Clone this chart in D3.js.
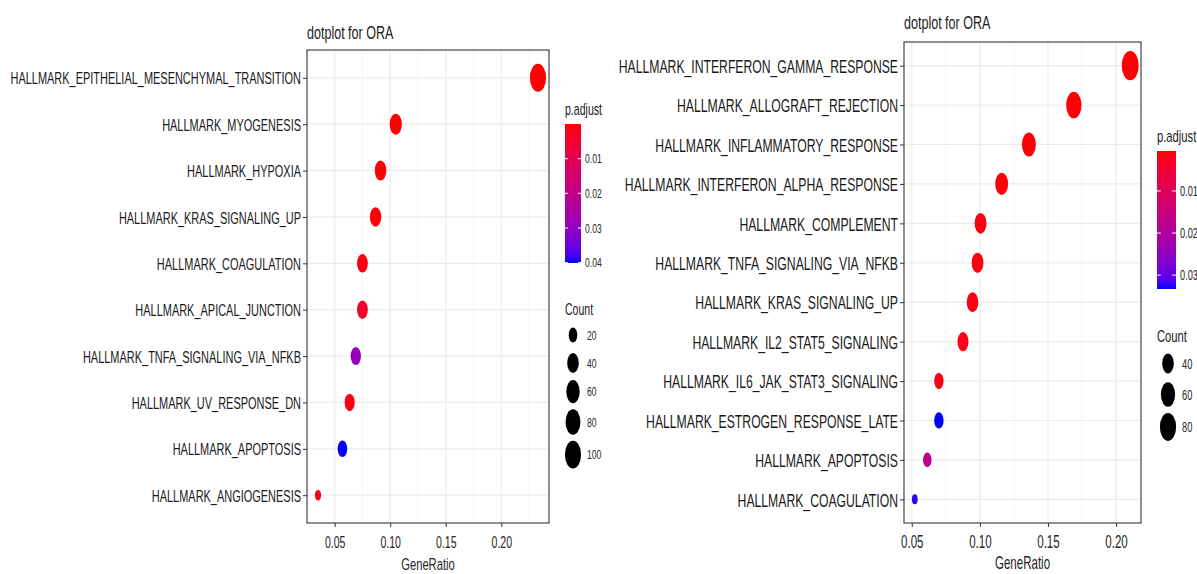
<!DOCTYPE html>
<html>
<head>
<meta charset="utf-8">
<script src="https://cdn.jsdelivr.net/npm/d3@7"></script>
<style>
  body { margin: 0; background: #fff; }
  text { font-family: "Liberation Sans", Arial, sans-serif; }
</style>
</head>
<body>
<svg id="chart" width="1197" height="574"></svg>
<script>
// left plot
const leftTerms = ["HALLMARK_EPITHELIAL_MESENCHYMAL_TRANSITION", "HALLMARK_MYOGENESIS", "HALLMARK_HYPOXIA",
  "HALLMARK_KRAS_SIGNALING_UP", "HALLMARK_COAGULATION", "HALLMARK_APICAL_JUNCTION",
  "HALLMARK_TNFA_SIGNALING_VIA_NFKB", "HALLMARK_UV_RESPONSE_DN", "HALLMARK_APOPTOSIS", "HALLMARK_ANGIOGENESIS"];
const leftRatio = [0.233, 0.105, 0.0913, 0.0868, 0.075, 0.075, 0.069, 0.0635, 0.057, 0.035];
const leftCount = [102, 46, 40, 38, 33, 33, 30, 28, 25, 15];
const leftPadj = [1e-20, 5e-5, 3e-4, 4e-4, 1.2e-3, 4.5e-3, 0.029, 1.5e-3, 0.0401, 1.8e-3];
const leftPadjTicks = [0.01, 0.02, 0.03, 0.04];
const leftCountBreaks = [20, 40, 60, 80, 100];

// right plot
const rightTerms = ["HALLMARK_INTERFERON_GAMMA_RESPONSE", "HALLMARK_ALLOGRAFT_REJECTION", "HALLMARK_INFLAMMATORY_RESPONSE",
  "HALLMARK_INTERFERON_ALPHA_RESPONSE", "HALLMARK_COMPLEMENT", "HALLMARK_TNFA_SIGNALING_VIA_NFKB",
  "HALLMARK_KRAS_SIGNALING_UP", "HALLMARK_IL2_STAT5_SIGNALING", "HALLMARK_IL6_JAK_STAT3_SIGNALING",
  "HALLMARK_ESTROGEN_RESPONSE_LATE", "HALLMARK_APOPTOSIS", "HALLMARK_COAGULATION"];
const rightRatio = [0.2104, 0.169, 0.136, 0.116, 0.1005, 0.0983, 0.0946, 0.0876, 0.0699, 0.0699, 0.0614, 0.0522];
const rightCount = [89, 71, 57, 49, 42, 41, 40, 37, 29, 29, 26, 22];
const rightPadj = [5e-4, 6e-4, 7e-4, 8e-4, 1.2e-3, 1.2e-3, 1.5e-3, 1.8e-3, 2.5e-3, 0.0333, 0.0175, 0.0325];
const rightPadjTicks = [0.01, 0.02, 0.03];
const rightCountBreaks = [40, 60, 80];

const xTicks = [0.05, 0.10, 0.15, 0.20];

const svg = d3.select("#chart");
const SX = 0.66;      // the source picture is squeezed sideways
const DOT_SX = 0.58;

function label(g, x, y, str, size, anchor, fill) {
  return g.append("text")
    .attr("transform", `translate(${x},${y}) scale(${SX},1)`)
    .attr("text-anchor", anchor || "start")
    .style("font-size", size + "px")
    .attr("fill", fill || "#1a1a1a")
    .text(str);
}

function dotplot(p) {
  const g = svg.append("g");

  const [r0, r1] = d3.extent(p.ratio);
  const x = d3.scaleLinear()
    .domain([r0 - (r1 - r0) * 0.05, r1 + (r1 - r0) * 0.05])
    .range([p.left, p.right]);
  const y = d3.scalePoint().domain(p.terms).range([p.top, p.bottom]).padding(0.6);

  // size like ggplot's area palette
  const norm = d3.scaleLinear().domain(d3.extent(p.count)).range([0, 1]);
  const diam = d3.scaleLinear().domain([0, 1]).range(p.dotRange);
  const size = c => diam(Math.sqrt(Math.max(0, norm(c))));

  const pExt = d3.extent(p.padj);
  const color = d3.scaleLinear().domain(pExt).range(["red", "blue"]).interpolate(d3.interpolateLab);

  // grid
  const step = xTicks[1] - xTicks[0];
  const minor = [xTicks[0] - step / 2].concat(xTicks.map(t => t + step / 2))
    .filter(v => v > x.domain()[0] && v < x.domain()[1]);
  g.selectAll(".minor").data(minor).enter().append("line")
    .attr("x1", d => x(d)).attr("x2", d => x(d))
    .attr("y1", p.top).attr("y2", p.bottom)
    .attr("stroke", "#f2f2f2").attr("stroke-width", 0.7);
  g.selectAll(".major").data(xTicks).enter().append("line")
    .attr("x1", d => x(d)).attr("x2", d => x(d))
    .attr("y1", p.top).attr("y2", p.bottom)
    .attr("stroke", "#ebebeb").attr("stroke-width", 1.2);
  g.selectAll(".hgrid").data(p.terms).enter().append("line")
    .attr("x1", p.left).attr("x2", p.right)
    .attr("y1", d => y(d)).attr("y2", d => y(d))
    .attr("stroke", "#ebebeb").attr("stroke-width", 1.2);

  // dots
  g.selectAll(".dot").data(p.terms).enter().append("ellipse")
    .attr("cx", (d, i) => x(p.ratio[i]))
    .attr("cy", d => y(d))
    .attr("rx", (d, i) => size(p.count[i]) / 2 * DOT_SX)
    .attr("ry", (d, i) => size(p.count[i]) / 2)
    .attr("fill", (d, i) => color(p.padj[i]));

  g.append("rect")
    .attr("x", p.left).attr("y", p.top)
    .attr("width", p.right - p.left).attr("height", p.bottom - p.top)
    .attr("fill", "none").attr("stroke", "#333").attr("stroke-width", 1.1);

  // axes
  const xa = g.append("g").attr("transform", `translate(0,${p.bottom})`)
    .call(d3.axisBottom(x).tickValues(xTicks).tickFormat(d3.format(".2f")).tickSize(4).tickPadding(p.tickPad));
  xa.select(".domain").remove();
  xa.selectAll("line").attr("stroke", "#333");
  xa.selectAll("text")
    .attr("transform", `scale(${SX},1)`)
    .attr("fill", "#262626")
    .style("font-family", "Liberation Sans, Arial, sans-serif")
    .style("font-size", p.tickFont + "px");

  const ya = g.append("g").attr("transform", `translate(${p.left},0)`)
    .call(d3.axisLeft(y).tickSize(4));
  ya.select(".domain").remove();
  ya.selectAll("line").attr("stroke", "#333");
  ya.selectAll("text")
    .attr("x", null).attr("dy", "0.36em")
    .attr("transform", `translate(-6,0) scale(${p.labelSX},1)`)
    .attr("fill", "#1a1a1a")
    .style("font-family", "Liberation Sans, Arial, sans-serif")
    .style("font-size", p.labelFont + "px");

  label(g, p.left, p.titleY, "dotplot for ORA", p.titleFont);
  label(g, (p.left + p.right) / 2, p.xTitleY, "GeneRatio", p.axisTitleFont, "middle", "#262626");

  // colour bar legend
  const lx = p.legendX;
  label(g, lx, p.pTitleY, "p.adjust", p.legendTitleFont);
  const gid = "grad" + p.id;
  const grad = svg.append("defs").append("linearGradient")
    .attr("id", gid).attr("x1", 0).attr("x2", 0).attr("y1", 0).attr("y2", 1);
  d3.range(0, 1.0001, 0.05).forEach(t => {
    grad.append("stop").attr("offset", t).attr("stop-color", color(pExt[0] + t * (pExt[1] - pExt[0])));
  });
  const bar = d3.scaleLinear().domain(pExt).range([p.barTop, p.barBottom]);
  g.append("rect").attr("x", lx).attr("y", p.barTop)
    .attr("width", p.barW).attr("height", p.barBottom - p.barTop)
    .attr("fill", `url(#${gid})`);
  p.padjTicks.forEach(t => {
    const ty = bar(t);
    g.append("line").attr("x1", lx).attr("x2", lx + p.barW * 0.2).attr("y1", ty).attr("y2", ty)
      .attr("stroke", "#fff").attr("stroke-width", 1);
    g.append("line").attr("x1", lx + p.barW * 0.8).attr("x2", lx + p.barW).attr("y1", ty).attr("y2", ty)
      .attr("stroke", "#fff").attr("stroke-width", 1);
    label(g, lx + p.barW + 4, ty + p.legendFont * 0.36, d3.format(".2f")(t), p.legendFont, "start", "#262626");
  });

  // size legend
  label(g, lx, p.countTitleY, "Count", p.legendTitleFont);
  let cy = p.countTitleY + 6;
  p.countBreaks.forEach(c => {
    const d = size(c);
    const h = Math.max(p.keyMin, d + 6);
    const yc = cy + h / 2;
    g.append("ellipse").attr("cx", p.keyX).attr("cy", yc)
      .attr("rx", d / 2 * DOT_SX).attr("ry", d / 2).attr("fill", "#000");
    label(g, p.keyX + 14, yc + p.legendFont * 0.36, c, p.legendFont, "start", "#262626");
    cy += h;
  });
}

dotplot({
  id: "L", terms: leftTerms, ratio: leftRatio, count: leftCount, padj: leftPadj,
  padjTicks: leftPadjTicks, countBreaks: leftCountBreaks,
  left: 307, right: 549, top: 50, bottom: 523,
  dotRange: [10.7, 28],
  titleY: 39, titleFont: 19, labelFont: 17, labelSX: 0.645, tickFont: 16, tickPad: 10,
  axisTitleFont: 17, xTitleY: 570,
  legendX: 565, pTitleY: 115, legendTitleFont: 16, legendFont: 13,
  barTop: 124, barBottom: 263, barW: 16,
  countTitleY: 315, keyX: 573, keyMin: 28
});

dotplot({
  id: "R", terms: rightTerms, ratio: rightRatio, count: rightCount, padj: rightPadj,
  padjTicks: rightPadjTicks, countBreaks: rightCountBreaks,
  left: 904, right: 1141, top: 42, bottom: 523,
  dotRange: [10, 29.3],
  titleY: 29, titleFont: 19, labelFont: 18.5, labelSX: 0.66, tickFont: 17.5, tickPad: 9,
  axisTitleFont: 17.5, xTitleY: 569,
  legendX: 1157, pTitleY: 142, legendTitleFont: 17, legendFont: 14,
  barTop: 151, barBottom: 289, barW: 19,
  countTitleY: 342, keyX: 1168, keyMin: 31
});
</script>
</body>
</html>
